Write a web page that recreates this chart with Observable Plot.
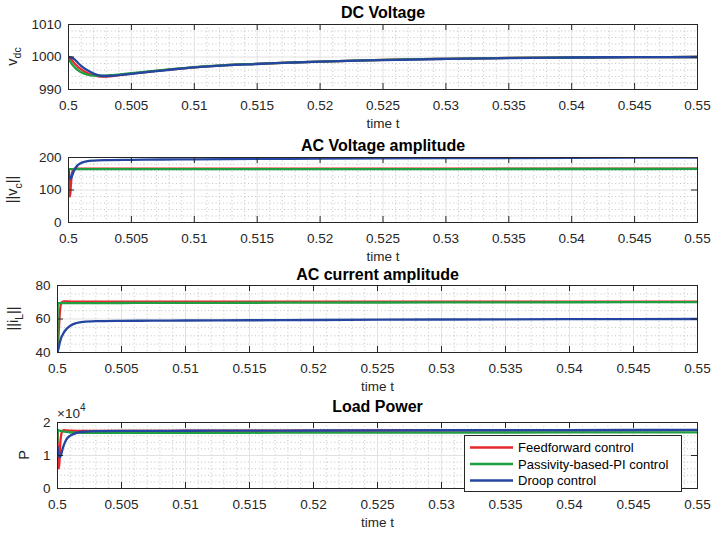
<!DOCTYPE html>
<html><head><meta charset="utf-8">
<script src="https://cdn.jsdelivr.net/npm/d3@7"></script>
<script src="https://cdn.jsdelivr.net/npm/@observablehq/plot@0.6"></script>
<style>
body{margin:0;background:#fff;}
#wrap{position:relative;width:711px;height:535px;background:#fff;}
#wrap svg{position:absolute;left:0;overflow:visible;}
</style></head><body><div id="wrap"></div>
<script>
// ---------- data ----------
const seriesNames = ["Feedforward control", "Passivity-based-PI control", "Droop control"];
const seriesColors = ["#e6282d", "#1f9e42", "#2446a0"];
const xTicks = [0.5, 0.505, 0.51, 0.515, 0.52, 0.525, 0.53, 0.535, 0.54, 0.545, 0.55];
const xTickLabels = ["0.5", "0.505", "0.51", "0.515", "0.52", "0.525", "0.53", "0.535", "0.54", "0.545", "0.55"];

// DC voltage
const tDC = [0.5, 0.5002, 0.5005, 0.5008, 0.501, 0.5015, 0.502, 0.5025, 0.503, 0.5035, 0.504, 0.505, 0.506, 0.508, 0.51, 0.5125, 0.515, 0.5175, 0.52, 0.525, 0.53, 0.535, 0.54, 0.545, 0.55];
const dcFeedforward = [1000, 999.3, 997.9, 996.8, 996.2, 995.1, 994.4, 994.0, 993.95, 994.1, 994.4, 994.9, 995.3, 996.1, 996.8, 997.5, 997.9, 998.3, 998.6, 999.1, 999.45, 999.7, 999.85, 999.95, 1000];
const dcPassivity   = [999.5, 998.2, 996.8, 995.8, 995.3, 994.6, 994.3, 994.25, 994.3, 994.45, 994.6, 995.0, 995.4, 996.2, 996.9, 997.5, 997.9, 998.3, 998.6, 999.1, 999.45, 999.7, 999.85, 999.95, 1000];
const dcDroop       = [1000, 999.9, 999.2, 998.0, 997.3, 995.9, 994.9, 994.3, 994.15, 994.2, 994.4, 994.8, 995.25, 996.05, 996.8, 997.45, 997.85, 998.25, 998.6, 999.05, 999.4, 999.65, 999.85, 999.95, 1000];

// shared time grid for the other three panels
const tAC = [0.5, 0.50002, 0.50005, 0.5001, 0.50015, 0.5002, 0.5003, 0.5004, 0.5005, 0.5007, 0.501, 0.5015, 0.502, 0.503, 0.505, 0.5075, 0.51, 0.515, 0.52, 0.53, 0.54, 0.55];
// AC voltage amplitude
const vcFeedforward = [160, 150, 115, 80, 92, 122, 155, 163, 165.5, 165.5, 165.5, 165.5, 165.5, 165.5, 165.5, 165.5, 165.5, 165.5, 165.5, 165.5, 165.5, 165.5];
const vcPassivity   = [160, 163.5, 164, 164, 164, 164, 164, 164, 164, 164, 164, 164, 164, 164, 164, 164, 164, 164.2, 164.3, 164.5, 164.6, 164.7];
const vcDroop       = [163, 158, 150, 138, 134, 136, 145, 156, 164, 175, 183, 188.5, 190.5, 192, 193, 193.8, 194.5, 195.5, 196.5, 198, 199, 199.8];
// AC current amplitude
const iLFeedforward = [40.5, 42.5, 46, 53, 60, 65.5, 69.5, 70.3, 70.5, 70.5, 70.4, 70.4, 70.4, 70.4, 70.4, 70.4, 70.4, 70.4, 70.4, 70.4, 70.4, 70.4];
const iLPassivity   = [40, 69.4, 69.4, 69.4, 69.4, 69.4, 69.4, 69.45, 69.45, 69.45, 69.5, 69.5, 69.5, 69.5, 69.55, 69.6, 69.65, 69.7, 69.8, 69.9, 70.0, 70.1];
const iLDroop       = [40.3, 40.8, 41.5, 43, 45, 46.5, 49, 50.5, 52, 54, 56, 57.6, 58.3, 58.7, 58.9, 59.0, 59.1, 59.25, 59.4, 59.7, 59.9, 60.0];
// Load power
const pFeedforward = [17000, 13000, 9000, 6000, 8000, 12500, 16500, 17500, 17700, 17600, 17500, 17450, 17450, 17450, 17450, 17480, 17500, 17520, 17550, 17600, 17650, 17700];
const pPassivity   = [14000, 17800, 17700, 17600, 17550, 17500, 17400, 17300, 17250, 17150, 17050, 16950, 16900, 16880, 16880, 16880, 16890, 16900, 16920, 16950, 16980, 17000];
const pDroop       = [12500, 12000, 11000, 10000, 9700, 9500, 10500, 12000, 13200, 14900, 16000, 16850, 17200, 17400, 17450, 17480, 17500, 17550, 17580, 17650, 17700, 17750];

const titles = ["DC Voltage", "AC Voltage amplitude", "AC current amplitude", "Load Power"];
const yTicksDC = [990, 1000, 1010];
const yTicksVc = [0, 100, 200];
const yTicksIL = [40, 60, 80];
const yTicksP = [0, 10000, 20000];
const yTickLabelsP = ["0", "1", "2"];

// ---------- layout ----------
const W = 711, MR = 14;
const FONT = '"Liberation Sans", Arial, Helvetica, sans-serif';
const INK = "#262626";
const TICKFS = 13.5;

const panels = [
  {title: titles[0], t: tDC, values: [dcFeedforward, dcPassivity, dcDroop], yDomain: [990, 1010], yTicks: yTicksDC, yMinorStep: 2,
   top: 0, height: 133, mt: 24, mb: 44, ml: 68, titleDy: -6.5, labX: 16.5,
   label: [{t: "v"}, {t: "dc", sub: true}]},
  {title: titles[1], t: tAC, values: [vcFeedforward, vcPassivity, vcDroop], yDomain: [0, 200], yTicks: yTicksVc, yMinorStep: 20,
   top: 133, height: 133, mt: 24, mb: 44, ml: 68, titleDy: -7, labX: 17,
   label: [{t: "||v"}, {t: "c", sub: true}, {t: "||"}]},
  {title: titles[2], t: tAC, values: [iLFeedforward, iLPassivity, iLDroop], yDomain: [40, 80], yTicks: yTicksIL, yMinorStep: 5,
   top: 263, height: 133, mt: 22, mb: 44, ml: 57, titleDy: -6, labX: 18,
   label: [{t: "||i"}, {t: "L", sub: true}, {t: "||"}]},
  {title: titles[3], t: tAC, values: [pFeedforward, pPassivity, pDroop], yDomain: [0, 20000], yTicks: yTicksP, yMinorStep: 2000,
   yFormat: d => yTickLabelsP[yTicksP.indexOf(d)],
   top: 396, height: 139, mt: 26, mb: 47, ml: 57, titleDy: -11, labX: 28.5,
   label: [{t: "P"}], exponent: true, legend: true}
];

const xMinor = d3.range(0, 51).map(i => +(0.5 + i * 0.001).toFixed(4)).filter(v => !xTicks.includes(v));

const wrap = document.getElementById("wrap");

panels.forEach(cfg => {
  const rows = [];
  cfg.values.forEach((vals, i) => vals.forEach((v, j) => rows.push({t: cfg.t[j], v, s: seriesNames[i]})));
  const ph = cfg.height - cfg.mt - cfg.mb;
  const pw = W - cfg.ml - MR;
  const [y0, y1] = cfg.yDomain;
  const yMinor = d3.range(y0, y1 + 1e-9, cfg.yMinorStep).filter(v => !cfg.yTicks.includes(v));

  const svg = Plot.plot({
    width: W, height: cfg.height,
    marginTop: cfg.mt, marginBottom: cfg.mb, marginLeft: cfg.ml, marginRight: MR,
    style: {fontFamily: FONT, fontSize: TICKFS + "px", color: INK, background: "transparent", overflow: "visible"},
    x: {domain: [0.5, 0.55]},
    y: {domain: cfg.yDomain},
    color: {domain: seriesNames, range: seriesColors},
    marks: [
      Plot.ruleX(xMinor, {stroke: "#b4b4b4", strokeDasharray: "1,2.6", strokeWidth: 0.8}),
      Plot.ruleY(yMinor, {stroke: "#b4b4b4", strokeDasharray: "1,2.6", strokeWidth: 0.8}),
      Plot.ruleX(xTicks, {stroke: "#e2e2e2"}),
      Plot.ruleY(cfg.yTicks, {stroke: "#e2e2e2"}),
      Plot.line(rows, {x: "t", y: "v", z: "s", stroke: "s", strokeWidth: 2.3, curve: "monotone-x", clip: true}),
      Plot.ruleX(xTicks, {insetTop: ph - 6, stroke: INK}),
      Plot.ruleX(xTicks, {insetBottom: ph - 6, stroke: INK}),
      Plot.ruleY(cfg.yTicks, {insetRight: pw - 6, stroke: INK}),
      Plot.ruleY(cfg.yTicks, {insetLeft: pw - 6, stroke: INK}),
      Plot.frame({stroke: INK}),
      Plot.axisX({ticks: xTicks, tickSize: 0, tickPadding: 11, label: null, fontSize: TICKFS,
                  tickFormat: d => xTickLabels[xTicks.indexOf(d)]}),
      Plot.axisY({ticks: cfg.yTicks, tickSize: 0, tickPadding: 7, label: null, fontSize: TICKFS,
                  tickFormat: cfg.yFormat || (d => String(d))}),
      Plot.text([cfg.title], {text: d => d, frameAnchor: "top", dy: cfg.titleDy, lineAnchor: "bottom",
                              fontWeight: "bold", fontSize: 16, fill: "#000"}),
      Plot.text(["time t"], {text: d => d, frameAnchor: "bottom", dy: 34, lineAnchor: "middle", fontSize: TICKFS, fill: INK})
    ]
  });
  svg.style.top = cfg.top + "px";
  wrap.appendChild(svg);

  const g = d3.select(svg);
  // y label with subscripts
  const lab = g.append("text")
    .attr("transform", `translate(${cfg.labX},${cfg.mt + ph / 2}) rotate(-90)`)
    .attr("text-anchor", "middle")
    .attr("fill", INK)
    .style("font-family", FONT)
    .style("font-size", "14.5px");
  let shifted = false;
  cfg.label.forEach(p => {
    const ts = lab.append("tspan").text(p.t);
    if (p.sub && !shifted) { ts.attr("dy", 4.5).style("font-size", "10.5px"); shifted = true; }
    else if (!p.sub && shifted) { ts.attr("dy", -4.5); shifted = false; }
  });

  if (cfg.exponent) {
    const ex = g.append("text").attr("x", cfg.ml).attr("y", cfg.mt - 4)
      .attr("text-anchor", "start")
      .attr("fill", INK).style("font-family", FONT).style("font-size", TICKFS + "px");
    ex.append("tspan").text("\u00d710");
    ex.append("tspan").attr("dy", -7).style("font-size", "10px").text("4");
  }

  if (cfg.legend) {
    const lx = 464, ly = 39, lw = 217, lh = 56;
    const lg = g.append("g");
    lg.append("rect").attr("x", lx + 0.5).attr("y", ly + 0.5).attr("width", lw).attr("height", lh)
      .attr("fill", "#fff").attr("stroke", INK).attr("stroke-width", 1);
    const rowsY = [51.5, 68, 84.5];
    seriesNames.forEach((name, i) => {
      lg.append("line").attr("x1", 470).attr("x2", 513).attr("y1", rowsY[i]).attr("y2", rowsY[i])
        .attr("stroke", seriesColors[i]).attr("stroke-width", 2.3);
      lg.append("text").attr("x", 518).attr("y", rowsY[i]).attr("dy", "0.35em")
        .attr("text-anchor", "start")
        .attr("fill", "#000").style("font-family", FONT).style("font-size", "13px").text(name);
    });
  }
});
</script>
</body></html>
